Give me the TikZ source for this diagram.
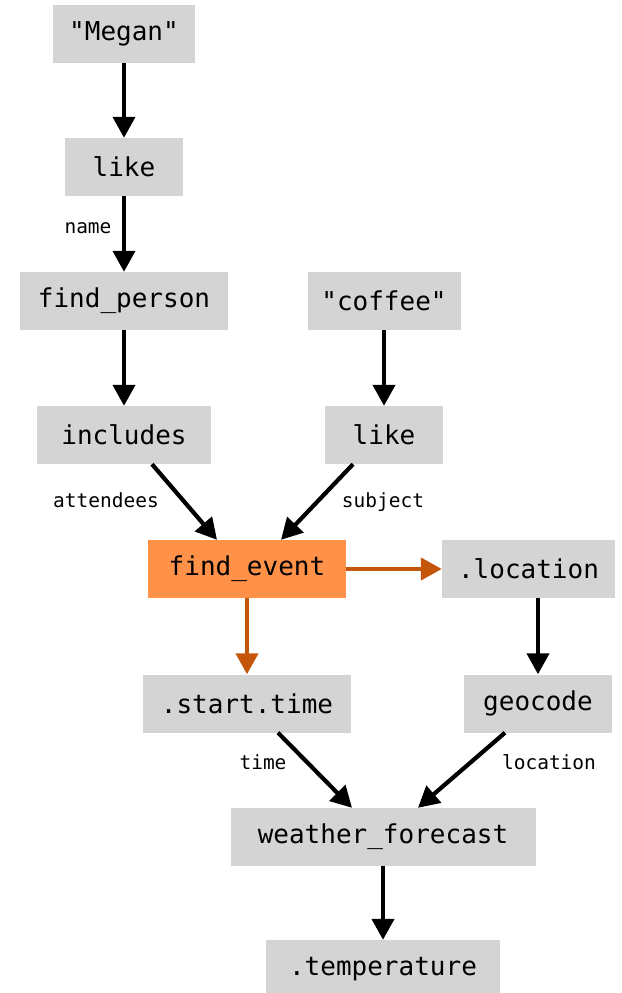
\documentclass[tikz,border=0pt]{standalone}
\usepackage{fontspec}
\setmonofont{DejaVu Sans Mono}
\usetikzlibrary{arrows.meta,calc}
\definecolor{boxgray}{RGB}{212,212,212}
\definecolor{hlorange}{RGB}{255,145,72}
\definecolor{arrorange}{RGB}{196,86,10}
\tikzset{
  box/.style={fill=boxgray, draw=none, minimum height=58pt, inner sep=0pt,
    font=\ttfamily\fontsize{26}{28}\selectfont, anchor=center},
  hlbox/.style={box, fill=hlorange},
  lbl/.style={font=\ttfamily\fontsize{19.5}{22}\selectfont, inner sep=0pt, anchor=center},
  arr/.style={line width=4.2pt, -{Triangle[length=21pt,width=22pt]}},
  oarr/.style={arr, draw=arrorange, -{Triangle[length=21pt,width=22pt,fill=arrorange]}},
}
\begin{document}
\begin{tikzpicture}[x=1pt,y=-1pt]
\useasboundingbox (0,0) rectangle (621,993);
\node[box, minimum width=142pt] (megan) at (124,34) {"Megan"};
\node[box, minimum width=118pt] (like1) at (124,167) {like};
\node[box, minimum width=208pt] (fperson) at (124,301) {find\_person};
\node[box, minimum width=153pt] (coffee) at (384,301) {"coffee"};
\node[box, minimum width=174pt] (incl) at (124,435) {includes};
\node[box, minimum width=118pt] (like2) at (384,435) {like};
\node[hlbox, minimum width=198pt] (fevent) at (247,569) {find\_event};
\node[box, minimum width=173pt] (loc) at (528.5,569) {.location};
\node[box, minimum width=208pt] (stime) at (247,703.5) {.start.time};
\node[box, minimum width=148pt] (geo) at (538,703.5) {geocode};
\node[box, minimum width=305pt] (wf) at (383,837) {weather\_forecast};
\node[box, minimum width=234pt] (temp) at (383,969) {.temperature};

\node[lbl] (lname) at (88,228) {name};
\node[lbl] (latt) at (106,500) {attendees};
\node[lbl] (lsubj) at (383,502) {subject};
\node[lbl] (ltime) at (263,762) {time};
\node[lbl] (lloc) at (549,762) {location};

\draw[arr] (megan.south) -- (like1.north);
\draw[arr] (like1.south) -- (fperson.north);
\draw[arr] (fperson.south) -- (incl.north);
\draw[arr] (coffee.south) -- (like2.north);
\draw[arr] ($(incl.south)+(28,0)$) -- ($(fevent.north)+(-30,0)$);
\draw[arr] ($(like2.south)+(-31,0)$) -- ($(fevent.north)+(34,0)$);
\draw[oarr] (fevent.east) -- (loc.west);
\draw[oarr] (fevent.south) -- (stime.north);
\draw[arr] ($(loc.south)+(9.5,0)$) -- (geo.north);
\draw[arr] ($(stime.south)+(31,0)$) -- ($(wf.north)+(-31,0)$);
\draw[arr] ($(geo.south)+(-33,0)$) -- ($(wf.north)+(35,0)$);
\draw[arr] (wf.south) -- (temp.north);
\end{tikzpicture}
\end{document}
